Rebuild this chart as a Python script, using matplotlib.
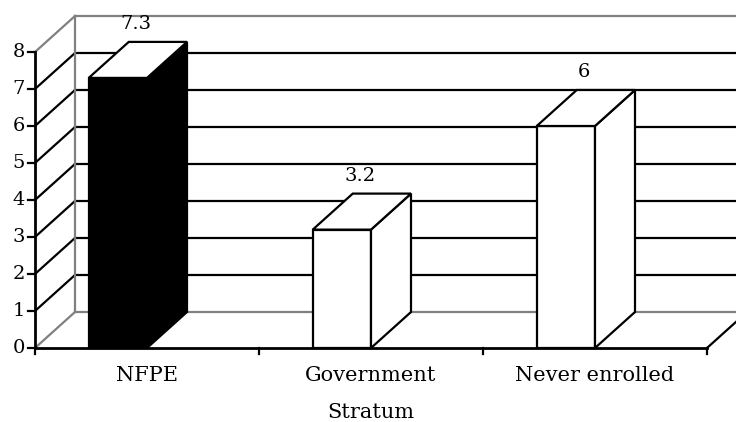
import matplotlib
matplotlib.use("Agg")
import matplotlib.pyplot as plt
from matplotlib.patches import Polygon

categories = ["NFPE", "Government", "Never enrolled"]
values = [7.3, 3.2, 6]
face_colors = ["black", "white", "white"]
yticks = [0, 1, 2, 3, 4, 5, 6, 7, 8]
xlabel = "Stratum"

plt.rcParams['font.family'] = ['DejaVu Serif']

fig = plt.figure(figsize=(7.36, 4.22), dpi=100)
ax = fig.add_axes([0, 0, 1, 1])
ax.set_xlim(-35 / 224, (736 - 35) / 224)
ax.set_ylim(-74 / 37, 348 / 37)
ax.axis('off')

# 3d depth offset (in data units)
dx = 40 / 224
dy = 36 / 37
ncat = len(categories)
ymax = yticks[-1]
gray = '#808080'
lw = 1.6

# back wall and left wall
for k in yticks:
    c = gray if k in (0, ymax) else 'black'
    ax.plot([dx, ncat + dx], [k + dy, k + dy], color=c, lw=lw, zorder=1)
    ax.plot([0, dx], [k, k + dy], color=c, lw=lw, zorder=1)
ax.plot([dx, dx], [dy, ymax + dy], color=gray, lw=lw, zorder=1)

# floor
ax.plot([0, ncat], [0, 0], color='black', lw=lw + 0.4, zorder=4)
ax.plot([ncat, ncat + dx], [0, dy], color='black', lw=lw, zorder=1)
for i in range(ncat + 1):
    ax.plot([i, i], [0, -0.16], color='black', lw=lw, zorder=4)

# left axis
ax.plot([0, 0], [0, ymax], color='black', lw=lw + 0.4, zorder=4)
for k in yticks:
    ax.plot([-0.03, 0], [k, k], color='black', lw=lw, zorder=4)
    ax.text(-0.045, k, str(k), ha='right', va='center', fontsize=14)

# bars
bw = 0.26
for i, (name, v, fc) in enumerate(zip(categories, values, face_colors)):
    right = i + 0.5
    left = right - bw
    front = Polygon([(left, 0), (right, 0), (right, v), (left, v)],
                    closed=True, facecolor=fc, edgecolor='black', lw=lw, zorder=3)
    side = Polygon([(right, 0), (right + dx, dy), (right + dx, v + dy), (right, v)],
                   closed=True, facecolor=fc, edgecolor='black', lw=lw, zorder=3)
    top = Polygon([(left, v), (right, v), (right + dx, v + dy), (left + dx, v + dy)],
                  closed=True, facecolor='white', edgecolor='black', lw=lw, zorder=3)
    for p in (front, side, top):
        ax.add_patch(p)
    ax.text((left + right) / 2 + 0.08, v + dy + 0.48, f"{v:g}",
            ha='center', va='center', fontsize=14)
    ax.text(i + 0.5, -0.73, name, ha='center', va='center', fontsize=15)

ax.text(ncat / 2, -1.75, xlabel, ha='center', va='center', fontsize=15)

fig.savefig("out.png", dpi=100)
